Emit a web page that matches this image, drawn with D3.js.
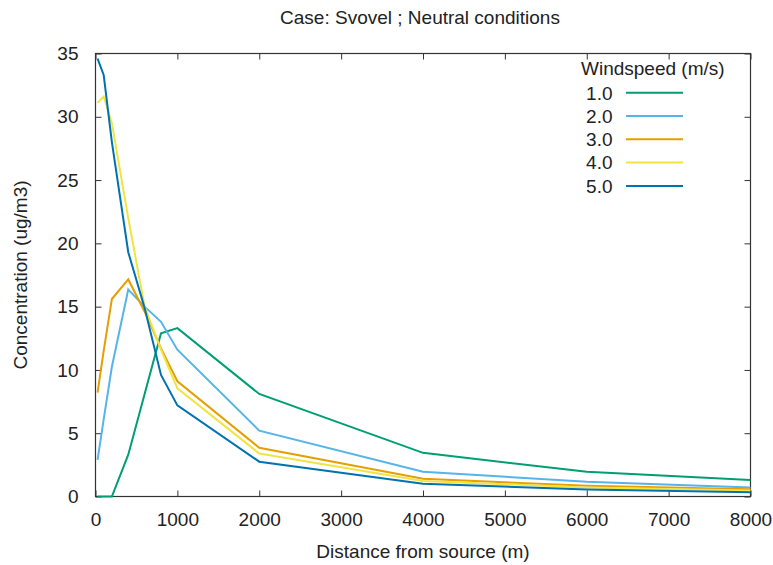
<!DOCTYPE html>
<html>
<head>
<meta charset="utf-8">
<script src="https://cdn.jsdelivr.net/npm/d3@7"></script>
<style>
  html, body { margin: 0; padding: 0; background: #fff; }
  svg { display: block; }
  text { font-family: "Liberation Sans", Arial, sans-serif; fill: #222; }
</style>
</head>
<body>
<div id="chart"></div>
<script>
// ---- data ----
const distances = [25, 100, 200, 400, 600, 800, 1000, 2000, 4000, 6000, 8000];
const ws1 = [0, 0, 0, 3.3, 8.1, 12.9, 13.3, 8.1, 3.45, 1.95, 1.3];
const ws2 = [2.9, 6.1, 10.25, 16.35, 15.0, 13.8, 11.6, 5.2, 1.96, 1.17, 0.72];
const ws3 = [8.2, 11.5, 15.6, 17.15, 14.6, 11.7, 9.1, 3.85, 1.4, 0.85, 0.57];
const ws4 = [31.1, 31.6, 29.5, 22.0, 15.0, 11.6, 8.55, 3.4, 1.22, 0.72, 0.48];
const ws5 = [34.6, 33.3, 28.0, 19.3, 14.9, 9.6, 7.2, 2.75, 1.0, 0.55, 0.33];
const seriesNames = ["1.0", "2.0", "3.0", "4.0", "5.0"];
const seriesValues = [ws1, ws2, ws3, ws4, ws5];
const colors = ["#009e73", "#56b4e9", "#e69f00", "#f0e442", "#0072b2"];
const xTicks = [0, 1000, 2000, 3000, 4000, 5000, 6000, 7000, 8000];
const yTicks = [0, 5, 10, 15, 20, 25, 30, 35];
const titleText = "Case: Svovel ; Neutral conditions";
const xLabel = "Distance from source (m)";
const yLabel = "Concentration (ug/m3)";
const legendTitle = "Windspeed (m/s)";

// ---- layout ----
const W = 773, H = 565;
const L = 95.5, R = 750.5, T = 53.5, B = 496.5;
const FS = 19;

const svg = d3.select("#chart").append("svg").attr("width", W).attr("height", H);

const x = d3.scaleLinear().domain([0, 8000]).range([L, R]);
const y = d3.scaleLinear().domain([0, 35]).range([B, T]);

// axes (ticks inward, gnuplot style, mirrored)
const gx = svg.append("g").attr("transform", `translate(0,${B})`)
  .call(d3.axisBottom(x).tickValues(xTicks).tickSize(-6).tickPadding(16).tickFormat(d3.format("d")));
const gxt = svg.append("g").attr("transform", `translate(0,${T})`)
  .call(d3.axisTop(x).tickValues(xTicks).tickSize(-6).tickFormat(""));
const gy = svg.append("g").attr("transform", `translate(${L},0)`)
  .call(d3.axisLeft(y).tickValues(yTicks).tickSize(-6).tickPadding(17).tickFormat(d3.format("d")));
const gyr = svg.append("g").attr("transform", `translate(${R},0)`)
  .call(d3.axisRight(y).tickValues(yTicks).tickSize(-6).tickFormat(""));

[gx, gxt, gy, gyr].forEach(g => {
  g.select(".domain").remove();
  g.selectAll(".tick line").attr("stroke", "#333").attr("stroke-width", 1);
  g.selectAll(".tick text").attr("font-size", FS).attr("font-family", "Liberation Sans, Arial, sans-serif").attr("fill", "#222");
});

// frame
svg.append("rect").attr("x", L).attr("y", T).attr("width", R - L).attr("height", B - T)
  .attr("fill", "none").attr("stroke", "#333").attr("stroke-width", 1.2);

// lines
const line = d3.line().x(d => x(d[0])).y(d => y(d[1]));
const plot = svg.append("g");
seriesValues.forEach((vals, i) => {
  const pts = distances.map((d, j) => [d, vals[j]]);
  plot.append("path").datum(pts)
    .attr("d", line)
    .attr("fill", "none")
    .attr("stroke", colors[i])
    .attr("stroke-width", 2)
    .attr("stroke-linejoin", "miter");
});

// legend
const lg = svg.append("g");
lg.append("text").attr("x", 581).attr("y", 75).attr("font-size", FS).text(legendTitle);
seriesNames.forEach((n, i) => {
  const cy = 92.7 + i * 23.3;
  lg.append("text").attr("x", 612.5).attr("y", cy + 6.8).attr("text-anchor", "end")
    .attr("font-size", FS).text(n);
  lg.append("line").attr("x1", 626).attr("x2", 683).attr("y1", cy).attr("y2", cy)
    .attr("stroke", colors[i]).attr("stroke-width", 2);
});

// title & axis labels
svg.append("text").attr("x", 420).attr("y", 24).attr("text-anchor", "middle")
  .attr("font-size", FS).text(titleText);
svg.append("text").attr("x", (L + R) / 2).attr("y", 558).attr("text-anchor", "middle")
  .attr("font-size", FS).text(xLabel);
svg.append("text").attr("transform", `translate(26.5,${(T + B) / 2}) rotate(-90)`)
  .attr("text-anchor", "middle").attr("font-size", FS).text(yLabel);
</script>
</body>
</html>
